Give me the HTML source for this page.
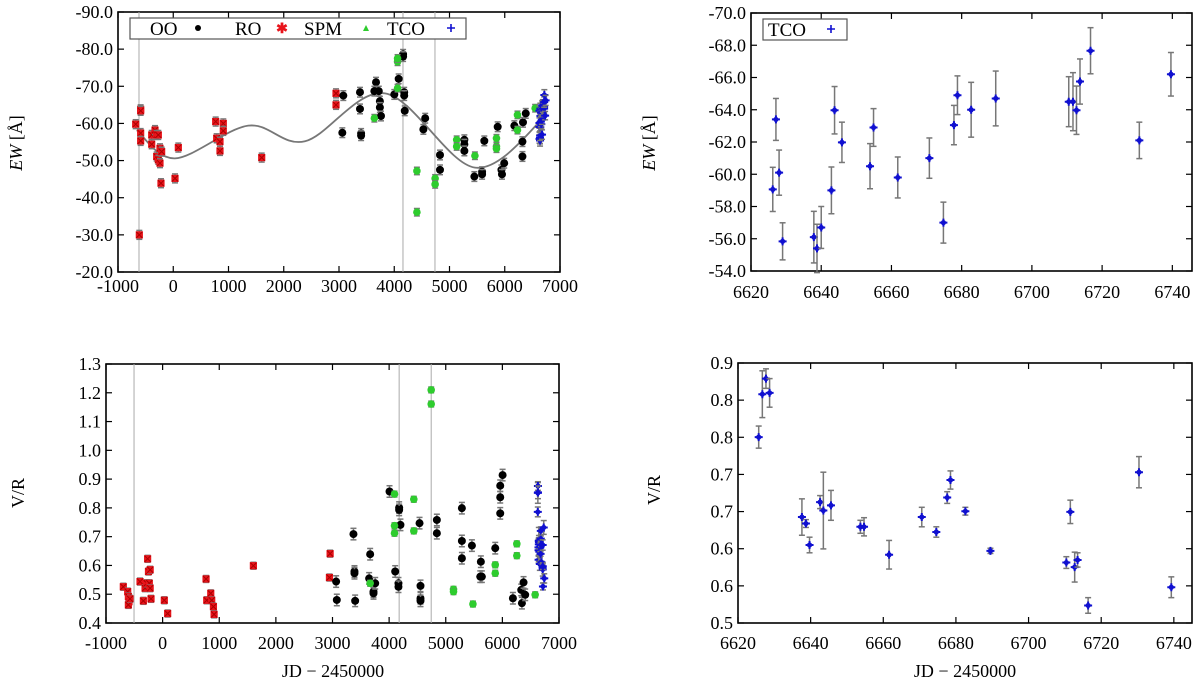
<!DOCTYPE html>
<html><head><meta charset="utf-8"><style>
body{margin:0;background:#fff;}
svg{display:block;font-family:"Liberation Serif",serif;}
</style></head><body>
<svg id="c" width="1200" height="681" viewBox="0 0 1200 681" xmlns="http://www.w3.org/2000/svg"></svg>
<script>
// ---------- data ----------
const tcoJD = [6626.2,6627.1,6628.0,6629.0,6637.9,6638.8,6640.0,6642.9,6643.8,6645.9,6653.9,6654.9,6661.8,6670.8,6674.8,6677.8,6678.8,6682.7,6689.7,6710.5,6711.7,6712.7,6713.7,6716.7,6730.6,6739.6];
const tcoEW = [-59.06,-63.4,-60.1,-55.84,-56.1,-55.4,-56.7,-59.0,-63.97,-61.98,-60.5,-62.9,-59.8,-61.0,-57.0,-63.05,-64.9,-64.0,-64.7,-64.5,-64.5,-63.97,-65.75,-67.66,-62.1,-66.2];
const tcoEWerr = [1.37,1.3,1.4,1.15,1.6,1.5,1.3,1.45,1.47,1.25,1.4,1.17,1.27,1.25,1.27,1.22,1.2,1.7,1.7,1.55,1.8,1.5,1.4,1.43,1.13,1.35];
const vrJD = [6625.7,6626.7,6627.7,6628.7,6637.6,6638.7,6639.7,6642.6,6643.5,6645.6,6653.7,6654.7,6661.6,6670.6,6674.6,6677.6,6678.5,6682.6,6689.5,6710.4,6711.5,6712.7,6713.5,6716.4,6730.4,6739.3];
const vrVal = [0.786,0.852,0.876,0.854,0.663,0.653,0.620,0.686,0.673,0.681,0.648,0.648,0.605,0.663,0.640,0.693,0.720,0.672,0.611,0.593,0.671,0.586,0.597,0.527,0.732,0.555];
const vrErr = [0.017,0.036,0.015,0.022,0.028,0.006,0.012,0.010,0.059,0.023,0.010,0.014,0.022,0.015,0.008,0.009,0.014,0.006,0.004,0.009,0.018,0.023,0.011,0.012,0.024,0.016];

const spmEWx = [-680,-590,-590,-590,-590,-614,-390,-330,-300,-390,-300,-270,-240,-240,-210,-222,-270,32,92,768,786,846,846,906,906,1601,2946,2946];
const spmEWy = [-59.8,-63.8,-63.4,-57.4,-55.3,-30,-56.9,-58.2,-56.9,-54.4,-51.1,-50.2,-49.3,-53.3,-52.4,-43.9,-56.9,-45.2,-53.5,-60.5,-56,-55.1,-52.6,-60,-58,-50.8,-68.1,-65];
const ooEWx = [3078,3060,3380,3380,3400,3400,3670,3640,3720,3740,3740,3760,4001,4080,4160,4160,4180,4180,4190,4527,4560,4828,4828,5269,5269,5269,5450,5590,5590,5630,5872,5940,5950,5990,6174,6330,6320,6320,6380];
const ooEWy = [-67.5,-57.5,-68.4,-63.9,-57.3,-56.7,-71.1,-68.7,-68.7,-66,-64.3,-62,-67.8,-72,-78.6,-78,-68.4,-67.5,-63.4,-58.4,-61.4,-51.5,-47.5,-55.6,-54.4,-52.6,-45.7,-47,-46.3,-55.3,-59.1,-47.5,-46.3,-49.3,-59.4,-60.3,-55.1,-51.1,-62.7];
const grEWx = [3640,4060,4060,4060,4410,4410,4740,4740,5130,5130,5460,5850,5850,5850,6230,6230,6550];
const grEWy = [-61.4,-76.6,-77.5,-69.5,-47.2,-36.1,-45.2,-43.6,-55.6,-53.8,-51.3,-56,-53.8,-53.2,-62.3,-58.2,-64.1];
const fitX = [-662,32,1357,2385,3833,5462,6759];
const fitY = [-58.2,-50.6,-59.4,-55.2,-68.1,-48.1,-62.3];

const spmVRx = [-694,-617,-605,-594,-605,-576,-399,-340,-310,-280,-265,-250,-220,-235,-205,-220,30,89,767,779,850,867,897,909,1603,2958,2946];
const spmVRy = [0.526,0.509,0.492,0.474,0.463,0.484,0.544,0.477,0.521,0.538,0.623,0.579,0.585,0.538,0.484,0.521,0.479,0.433,0.553,0.479,0.503,0.479,0.457,0.430,0.599,0.641,0.558];
const ooVRx = [3064,3076,3370,3388,3388,3400,3665,3647,3724,3724,3754,4007,4107,4177,4177,4200,4165,4165,4537,4554,4554,4554,4843,4843,5285,5285,5285,5462,5620,5609,5638,5874,5962,5962,5962,6004,6186,6333,6345,6374,6403];
const ooVRy = [0.544,0.480,0.709,0.579,0.573,0.477,0.639,0.555,0.509,0.503,0.538,0.857,0.579,0.801,0.793,0.741,0.538,0.526,0.747,0.529,0.486,0.477,0.758,0.712,0.799,0.685,0.625,0.669,0.613,0.561,0.561,0.660,0.877,0.837,0.781,0.914,0.486,0.515,0.469,0.541,0.498];
const grVRx = [4095,4095,4095,4436,4436,3665,4743,4743,5137,5137,5480,5874,5874,6255,6255,6579];
const grVRy = [0.848,0.738,0.712,0.830,0.720,0.538,1.210,1.161,0.517,0.509,0.466,0.602,0.573,0.675,0.634,0.498];

const ewTicksL = [-90,-80,-70,-60,-50,-40,-30,-20];
const ewTicksR = [-70,-68,-66,-64,-62,-60,-58,-56,-54];
const jdTicksL = [-1000,0,1000,2000,3000,4000,5000,6000,7000];
const jdTicksR = [6620,6640,6660,6680,6700,6720,6740];
const vrTicksL = [1.3,1.2,1.1,1.0,0.9,0.8,0.7,0.6,0.5,0.4];
const vrTickLabR = ["0.9","0.8","0.8","0.7","0.7","0.6","0.6","0.5"];
const vlinesEW = [-620,4158,4737];
const vlinesVR = [-505,4177,4743];

// ---------- helpers ----------
const NS="http://www.w3.org/2000/svg";
const svg=document.getElementById('c');
const FS=18;
function mk(tag,attrs,parent){const e=document.createElementNS(NS,tag);for(const k in attrs)e.setAttribute(k,attrs[k]);(parent||svg).appendChild(e);return e;}
function lin(d0,d1,p0,p1){return v=>p0+(v-d0)/(d1-d0)*(p1-p0);}

function panel(name,L,T,R,B,xd,yd){
  const g=mk('g',{});
  
  
  return {g,L,T,R,B,x:lin(xd[0],xd[1],L,R),y:lin(yd[0],yd[1],T,B)};
}
function frame(p){
  const r=mk('rect',{x:p.L,y:p.T,width:p.R-p.L,height:p.B-p.T,fill:'none',stroke:'#000','stroke-width':1.6},p.g);
  
  
}
function xTicks(p,vals,labY){
  vals.forEach(v=>{
    const X=p.x(v);
    mk('line',{x1:X,y1:p.B,x2:X,y2:p.B-6,stroke:'#000','stroke-width':1.2},p.g);
    mk('line',{x1:X,y1:p.T,x2:X,y2:p.T+6,stroke:'#000','stroke-width':1.2},p.g);
    const t=mk('text',{x:X,y:labY,'text-anchor':'middle','font-size':FS},p.g);
    
    
    t.textContent=String(v);
  });
}
function yTicks(p,vals,labels){
  vals.forEach((v,i)=>{
    const Y=p.y(v);
    mk('line',{x1:p.L,y1:Y,x2:p.L+6,y2:Y,stroke:'#000','stroke-width':1.2},p.g);
    mk('line',{x1:p.R,y1:Y,x2:p.R-6,y2:Y,stroke:'#000','stroke-width':1.2},p.g);
    const t=mk('text',{x:p.L-5,y:Y+6,'text-anchor':'end','font-size':FS},p.g);
    
    
    t.textContent=labels[i];
  });
}
function vlines(p,vals){
  vals.forEach(v=>{
    const l=mk('line',{x1:p.x(v),y1:p.T,x2:p.x(v),y2:p.B,stroke:'#aaa','stroke-width':1},p.g);
    
    
  });
}
function errbar(p,xv,yv,e){
  const X=p.x(xv),Y1=p.y(yv-e),Y2=p.y(yv+e);
  mk('line',{x1:X,y1:Y1,x2:X,y2:Y2,stroke:'#777','stroke-width':1.5},p.g);
  mk('line',{x1:X-3,y1:Y1,x2:X+3,y2:Y1,stroke:'#777','stroke-width':1.5},p.g);
  mk('line',{x1:X-3,y1:Y2,x2:X+3,y2:Y2,stroke:'#777','stroke-width':1.5},p.g);
}
function marker(g,type,X,Y){
  let m;
  if(type==='oo'){m=mk('circle',{cx:X,cy:Y,r:4,fill:'#000'},g);}
  else if(type==='spm'){m=mk('rect',{x:X-3.6,y:Y-3.6,width:7.2,height:7.2,fill:'#e8141b'},g);
    mk('path',{d:`M${X-3} ${Y-3}L${X+3} ${Y+3}M${X+3} ${Y-3}L${X-3} ${Y+3}`,stroke:'#a00','stroke-width':1},g);}
  else if(type==='gr'){m=mk('circle',{cx:X,cy:Y,r:3.8,fill:'#2ecc2e'},g);}
  else {m=mk('path',{d:`M${X-4} ${Y}H${X+4}M${X} ${Y-4}V${Y+4}`,stroke:'#1010d0','stroke-width':2},g);
    mk('circle',{cx:X,cy:Y,r:2.6,fill:'#1010d0'},g);}
  return m;
}
function series(p,name,type,xs,ys,errs,errConst){
  const g=mk('g',{},p.g);
  
  
  xs.forEach((xv,i)=>{
    const e=errs?errs[i]:errConst;
    const X=p.x(xv),Y=p.y(ys[i]);
    if(X<p.L-1||X>p.R+1)return;
    errbar({x:p.x,y:p.y,g},xv,ys[i],e);
    const m=marker(g,type,X,Y);
    
    
  });
}
function label(txt,x,y,rot,name,html){
  const t=mk('text',{x:x,y:y,'text-anchor':'middle','font-size':18,transform:rot?`rotate(-90 ${x} ${y})`:''});
  
  
  if(html){t.innerHTML=html;}else t.textContent=txt;
}

// ---------- panel A: EW long ----------
const A=panel('ew-long-panel',118,12,560,272,[-1000,7000],[-90,-20]);
frame(A);vlines(A,vlinesEW);
yTicks(A,ewTicksL,ewTicksL.map(v=>v.toFixed(1)));
xTicks(A,jdTicksL,292);
(function(){
  const P=fitX.map((v,i)=>[A.x(v),A.y(fitY[i])]);
  let d=`M${P[0][0]} ${P[0][1]}`;
  for(let i=0;i<P.length-1;i++){
    const p0=P[Math.max(i-1,0)],p1=P[i],p2=P[i+1],p3=P[Math.min(i+2,P.length-1)];
    d+=`C${p1[0]+(p2[0]-p0[0])/6} ${p1[1]+(p2[1]-p0[1])/6} ${p2[0]-(p3[0]-p1[0])/6} ${p2[1]-(p3[1]-p1[1])/6} ${p2[0]} ${p2[1]}`;
  }
  const c=mk('path',{d:d,fill:'none',stroke:'#777','stroke-width':1.8},A.g);
  
  
})();
series(A,'spm-series','spm',spmEWx,spmEWy,null,1.2);
series(A,'oo-series','oo',ooEWx,ooEWy,null,1.3);
series(A,'tco-green-series','gr',grEWx,grEWy,null,1.0);
series(A,'tco-series','tco',tcoJD,tcoEW,tcoEWerr);
(function(){
  const lg=mk('g',{},A.g);
  
  
  mk('rect',{x:130,y:18,width:336,height:21,fill:'#fff',stroke:'#555','stroke-width':1.2},lg);
  [['OO',150],['RO',235],['SPM',304],['TCO',387]].forEach(a=>{
    const t=mk('text',{x:a[1],y:35,'font-size':19},lg);
    
    
    t.textContent=a[0];
  });
  mk('circle',{cx:198,cy:28,r:3,fill:'#000'},lg);
  mk('text',{x:282,y:33,'font-size':14,fill:'#e8141b','text-anchor':'middle','font-weight':'bold'},lg).textContent='✱';
  mk('path',{d:'M363 31L369 31L366 25Z',fill:'#2ecc2e'},lg);
  mk('path',{d:'M447 28H455M451 24V32',stroke:'#1010d0','stroke-width':1.6},lg);
})();
label('',22,143,true,'y-axis-title','<tspan font-style="italic">EW</tspan> [Å]');

// ---------- panel B: EW TCO zoom ----------
const B=panel('ew-tco-panel',751,13,1192,271,[6620,6745.6],[-70,-54]);
frame(B);
yTicks(B,ewTicksR,ewTicksR.map(v=>v.toFixed(1)));
xTicks(B,jdTicksR,298);
series(B,'tco-series','tco',tcoJD,tcoEW,tcoEWerr);
(function(){
  const lg=mk('g',{},B.g);
  
  
  mk('rect',{x:763,y:19,width:84,height:21,fill:'#fff',stroke:'#555','stroke-width':1.2},lg);
  const t=mk('text',{x:768,y:36,'font-size':19},lg);
  
  
  t.textContent='TCO';
  mk('path',{d:'M827 29H835M831 25V33',stroke:'#1010d0','stroke-width':1.6},lg);
})();
label('',655,143,true,'y-axis-title','<tspan font-style="italic">EW</tspan> [Å]');

// ---------- panel C: V/R long ----------
const C=panel('vr-long-panel',106,364,559,623,[-1000,7000],[1.3,0.4]);
frame(C);vlines(C,vlinesVR);
yTicks(C,vrTicksL,vrTicksL.map(v=>v.toFixed(1)));
xTicks(C,jdTicksL,649);
series(C,'spm-series','spm',spmVRx,spmVRy,null,0.012);
series(C,'oo-series','oo',ooVRx,ooVRy,null,0.02);
series(C,'tco-green-series','gr',grVRx,grVRy,null,0.01);
series(C,'tco-series','tco',vrJD,vrVal,vrErr);
label('V/R',24,493,true,'y-axis-title');
label('JD − 2450000',333,677,false,'x-axis-title');

// ---------- panel D: V/R TCO zoom ----------
const D=panel('vr-tco-panel',738,363,1192,623,[6620,6745],[0.9,0.5]);
frame(D);
(function(){
  vrTickLabR.forEach((lab,i)=>{
    const Y=D.T+i*(D.B-D.T)/(vrTickLabR.length-1);
    mk('line',{x1:D.L,y1:Y,x2:D.L+6,y2:Y,stroke:'#000','stroke-width':1.2},D.g);
    mk('line',{x1:D.R,y1:Y,x2:D.R-6,y2:Y,stroke:'#000','stroke-width':1.2},D.g);
    const t=mk('text',{x:D.L-5,y:Y+6,'text-anchor':'end','font-size':FS},D.g);
    
    
    t.textContent=lab;
  });
})();
xTicks(D,jdTicksR,649);
series(D,'tco-series','tco',vrJD,vrVal,vrErr);
label('V/R',660,490,true,'y-axis-title');
label('JD − 2450000',965,677,false,'x-axis-title');
</script>
</body></html>
